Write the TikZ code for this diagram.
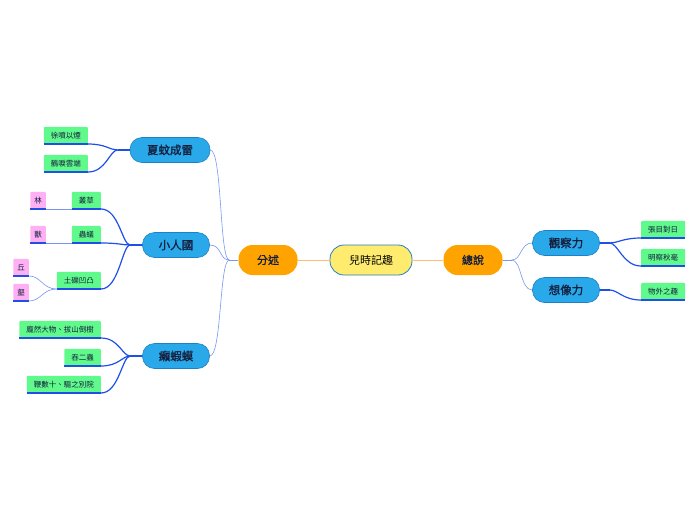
\documentclass[tikz,border=0pt]{standalone}
\usepackage{fontspec}
\setmainfont[AutoFakeBold=1.2]{Noto Sans CJK TC}
\usetikzlibrary{calc,positioning}
\definecolor{mapblue}{RGB}{41,169,234}
\definecolor{mapedge}{RGB}{32,128,196}
\definecolor{maporange}{RGB}{255,163,0}
\definecolor{mapyellow}{RGB}{255,236,110}
\definecolor{mapgreen}{RGB}{96,250,140}
\definecolor{mappink}{RGB}{255,176,244}
\definecolor{mapline}{RGB}{30,80,232}
\definecolor{mapthin}{RGB}{120,150,240}
\definecolor{maplink}{RGB}{255,190,120}
\definecolor{maptext}{RGB}{20,30,60}

\begin{document}
\begin{tikzpicture}[x=1pt,y=-1pt,
  root/.style={draw=mapedge,fill=mapyellow,line width=0.8pt,rounded corners=14pt,minimum width=82pt,minimum height=30pt,font=\fontsize{11}{13}\selectfont,text=black},
  main/.style={fill=maporange,rounded corners=14pt,minimum width=59pt,minimum height=30pt,font=\fontsize{11}{13}\selectfont\bfseries,text=maptext},
  topic/.style={draw=mapedge,fill=mapblue,line width=0.6pt,rounded corners=12pt,minimum width=67pt,minimum height=25pt,inner xsep=10pt,font=\fontsize{11.5}{13}\selectfont\bfseries,text=maptext},
  leaf/.style={fill=mapgreen,rounded corners=1pt,minimum height=17pt,inner xsep=7pt,inner ysep=0pt,font=\fontsize{7.5}{8}\selectfont,text=maptext},
  tip/.style={leaf,fill=mappink,inner xsep=4pt},
  uline/.style={mapline,line width=1.2pt},
  conn/.style={mapline,line width=1.2pt},
  fine/.style={mapthin,line width=0.6pt},
  link/.style={maplink,line width=0.8pt}]
  \useasboundingbox (0,0) rectangle (696,520);

  % centre and the two halves
  \node[root] (root) at (371,260) {兒時記趣};
  \node[main] (fenshu) at (268,260) {分述};
  \node[main] (zongshuo) at (473,260) {總說};
  \draw[link] (fenshu.east) -- (root.west);
  \draw[link] (root.east) -- (zongshuo.west);

  % topics
  \node[topic,minimum width=80pt] (xia) at (170,150) {夏蚊成雷};
  \node[topic] (xiaoren) at (176,245) {小人國};
  \node[topic] (hama) at (176,356) {癩蝦蟆};
  \node[topic] (guancha) at (566,243) {觀察力};
  \node[topic] (xiangxiang) at (566,290) {想像力};

  \coordinate (jfen) at ($(fenshu.west)+(-9,0)$);
  \coordinate (jzong) at ($(zongshuo.east)+(9,0)$);
  \draw[fine] (fenshu.west) -- (jfen);
  \draw[fine] (zongshuo.east) -- (jzong);
  \foreach \t in {xia,xiaoren,hama}
    \draw[fine] (jfen) .. controls +(-10,0) and +(12,0) .. (\t.east);
  \foreach \t in {guancha,xiangxiang}
    \draw[fine] (jzong) .. controls +(10,0) and +(-12,0) .. (\t.west);

  % leaves, left side
  \node[leaf,anchor=south east] (xupen) at (88,144) {徐噴以煙};
  \node[leaf,anchor=south east] (heli) at (88,172) {鶴唳雲端};
  \node[leaf,anchor=south east] (congcao) at (101,209) {叢草};
  \node[leaf,anchor=south east] (chongyi) at (101,243) {蟲蟻};
  \node[leaf,anchor=south east] (tuli) at (101,289) {土礫凹凸};
  \node[leaf,anchor=south east] (pangran) at (101,338) {龐然大物、拔山倒樹};
  \node[leaf,anchor=south east] (tuner) at (101,366) {吞二蟲};
  \node[leaf,anchor=south east] (bianshu) at (101,393) {鞭數十、驅之別院};
  \node[tip,anchor=south east] (lin) at (46,209) {林};
  \node[tip,anchor=south east] (shou) at (46,243) {獸};
  \node[tip,anchor=south east] (qiu) at (29,276) {丘};
  \node[tip,anchor=south east] (he) at (29,301) {壑};

  % leaves, right side
  \node[leaf,anchor=south west] (zhangmu) at (641,238) {張目對日};
  \node[leaf,anchor=south west] (mingcha) at (641,266) {明察秋毫};
  \node[leaf,anchor=south west] (wuwai) at (641,300) {物外之趣};

  \foreach \n in {xupen,heli,congcao,chongyi,tuli,pangran,tuner,bianshu,lin,shou,qiu,he,zhangmu,mingcha,wuwai}
    \draw[uline] (\n.south west) -- (\n.south east);

  % connectors to leaves
  \coordinate (jxia) at ($(xia.west)+(-12,0)$);
  \coordinate (jxiaoren) at ($(xiaoren.west)+(-12,0)$);
  \coordinate (jhama) at ($(hama.west)+(-12,0)$);
  \coordinate (jguancha) at ($(guancha.east)+(10,0)$);
  \coordinate (jxiangxiang) at ($(xiangxiang.east)+(10,0)$);
  \draw[conn] (xia.west) -- (jxia);
  \draw[conn] (xiaoren.west) -- (jxiaoren);
  \draw[conn] (hama.west) -- (jhama);
  \draw[conn] (guancha.east) -- (jguancha);
  \draw[conn] (xiangxiang.east) -- (jxiangxiang);
  \foreach \l in {xupen,heli}
    \draw[conn] (jxia) .. controls +(-8,0) and +(18,0) .. (\l.south east);
  \foreach \l in {congcao,chongyi,tuli}
    \draw[conn] (jxiaoren) .. controls +(-8,0) and +(18,0) .. (\l.south east);
  \foreach \l in {pangran,tuner,bianshu}
    \draw[conn] (jhama) .. controls +(-8,0) and +(18,0) .. (\l.south east);
  \foreach \l in {zhangmu,mingcha}
    \draw[conn] (jguancha) .. controls +(8,0) and +(-18,0) .. (\l.south west);
  \draw[conn] (jxiangxiang) .. controls +(8,0) and +(-18,0) .. (wuwai.south west);

  % second level
  \draw[fine] (lin.south east) -- (congcao.south west);
  \draw[fine] (shou.south east) -- (chongyi.south west);
  \draw[fine] (qiu.south east) .. controls +(12,0) and +(-14,0) .. (tuli.south west);
  \draw[fine] (he.south east) .. controls +(12,0) and +(-14,0) .. (tuli.south west);
\end{tikzpicture}
\end{document}
